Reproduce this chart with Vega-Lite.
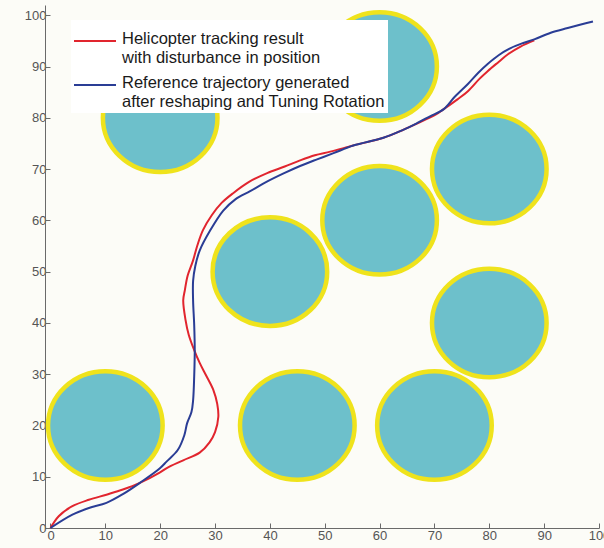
{
  "$schema": "https://vega.github.io/schema/vega-lite/v6.json",
  "width": 554,
  "height": 523,
  "autosize": {"type": "none"},
  "padding": {"left": 45, "top": 5, "right": 5, "bottom": 20},
  "background": "#fcfcf7",
  "config": {
    "view": {"stroke": null},
    "font": "Liberation Sans",
    "axis": {
      "grid": false,
      "domainColor": "#6a6a6a",
      "tickColor": "#6a6a6a",
      "tickSize": -5,
      "labelColor": "#555555",
      "labelFontSize": 13,
      "labelFont": "Liberation Sans",
      "title": null
    }
  },
  "datasets": {
    "circles": [
      {"cx": 10, "cy": 20}, {"cx": 45, "cy": 20}, {"cx": 70, "cy": 20},
      {"cx": 80, "cy": 40}, {"cx": 80, "cy": 70}, {"cx": 60, "cy": 60},
      {"cx": 40, "cy": 50}, {"cx": 20, "cy": 80}, {"cx": 60, "cy": 90}
    ],
    "paths": [
      {"series": "A", "i": 0, "x": 0, "y": 0},
      {"series": "A", "i": 1, "x": 1.5, "y": 2.3},
      {"series": "A", "i": 2, "x": 3.9, "y": 4.2},
      {"series": "A", "i": 3, "x": 7, "y": 5.5},
      {"series": "A", "i": 4, "x": 10.2, "y": 6.5},
      {"series": "A", "i": 5, "x": 13.2, "y": 7.5},
      {"series": "A", "i": 6, "x": 16.3, "y": 8.8},
      {"series": "A", "i": 7, "x": 19.9, "y": 10.8},
      {"series": "A", "i": 8, "x": 21.2, "y": 11.7},
      {"series": "A", "i": 9, "x": 24.2, "y": 13.2},
      {"series": "A", "i": 10, "x": 27.2, "y": 14.7},
      {"series": "A", "i": 11, "x": 29, "y": 16.7},
      {"series": "A", "i": 12, "x": 30, "y": 18.7},
      {"series": "A", "i": 13, "x": 30.6, "y": 21.7},
      {"series": "A", "i": 14, "x": 30.4, "y": 24.2},
      {"series": "A", "i": 15, "x": 29.7, "y": 26.9},
      {"series": "A", "i": 16, "x": 28.4, "y": 29.7},
      {"series": "A", "i": 17, "x": 27.2, "y": 32.2},
      {"series": "A", "i": 18, "x": 26.2, "y": 34.7},
      {"series": "A", "i": 19, "x": 25.2, "y": 37.7},
      {"series": "A", "i": 20, "x": 24.6, "y": 40.7},
      {"series": "A", "i": 21, "x": 24.2, "y": 44.4},
      {"series": "A", "i": 22, "x": 24.5, "y": 46.4},
      {"series": "A", "i": 23, "x": 25, "y": 49.2},
      {"series": "A", "i": 24, "x": 26, "y": 52.2},
      {"series": "A", "i": 25, "x": 26.8, "y": 55.2},
      {"series": "A", "i": 26, "x": 27.8, "y": 58.1},
      {"series": "A", "i": 27, "x": 29.4, "y": 61},
      {"series": "A", "i": 28, "x": 31.2, "y": 63.4},
      {"series": "A", "i": 29, "x": 33.3, "y": 65.3},
      {"series": "A", "i": 30, "x": 36.2, "y": 67.5},
      {"series": "A", "i": 31, "x": 39.5, "y": 69.2},
      {"series": "A", "i": 32, "x": 42.7, "y": 70.5},
      {"series": "A", "i": 33, "x": 45.5, "y": 71.7},
      {"series": "A", "i": 34, "x": 48.2, "y": 72.7},
      {"series": "A", "i": 35, "x": 51, "y": 73.4},
      {"series": "A", "i": 36, "x": 55.2, "y": 74.6},
      {"series": "A", "i": 37, "x": 60.7, "y": 76.1},
      {"series": "A", "i": 38, "x": 64.2, "y": 77.6},
      {"series": "A", "i": 39, "x": 66.9, "y": 78.9},
      {"series": "A", "i": 40, "x": 70.2, "y": 80.6},
      {"series": "A", "i": 41, "x": 71.7, "y": 81.7},
      {"series": "A", "i": 42, "x": 74.2, "y": 83.6},
      {"series": "A", "i": 43, "x": 76.1, "y": 85.2},
      {"series": "A", "i": 44, "x": 78.2, "y": 87.6},
      {"series": "A", "i": 45, "x": 79.7, "y": 89.1},
      {"series": "A", "i": 46, "x": 81.7, "y": 90.9},
      {"series": "A", "i": 47, "x": 83.4, "y": 92.4},
      {"series": "A", "i": 48, "x": 85.7, "y": 93.9},
      {"series": "A", "i": 49, "x": 88.2, "y": 95.1},
      {"series": "B", "i": 0, "x": 0, "y": 0},
      {"series": "B", "i": 1, "x": 4, "y": 2.6},
      {"series": "B", "i": 2, "x": 7, "y": 3.9},
      {"series": "B", "i": 3, "x": 10.2, "y": 4.9},
      {"series": "B", "i": 4, "x": 13.2, "y": 6.6},
      {"series": "B", "i": 5, "x": 16.3, "y": 8.8},
      {"series": "B", "i": 6, "x": 19.9, "y": 11.6},
      {"series": "B", "i": 7, "x": 21.2, "y": 13},
      {"series": "B", "i": 8, "x": 23.2, "y": 15.2},
      {"series": "B", "i": 9, "x": 24.4, "y": 18.1},
      {"series": "B", "i": 10, "x": 24.9, "y": 20.4},
      {"series": "B", "i": 11, "x": 25.7, "y": 22.6},
      {"series": "B", "i": 12, "x": 26, "y": 24.9},
      {"series": "B", "i": 13, "x": 26.2, "y": 29.6},
      {"series": "B", "i": 14, "x": 26.3, "y": 34.6},
      {"series": "B", "i": 15, "x": 26.2, "y": 39.6},
      {"series": "B", "i": 16, "x": 26, "y": 44.3},
      {"series": "B", "i": 17, "x": 26, "y": 48.2},
      {"series": "B", "i": 18, "x": 26.4, "y": 51.1},
      {"series": "B", "i": 19, "x": 27.2, "y": 54.1},
      {"series": "B", "i": 20, "x": 29.1, "y": 58},
      {"series": "B", "i": 21, "x": 31.5, "y": 61.9},
      {"series": "B", "i": 22, "x": 33.7, "y": 64.1},
      {"series": "B", "i": 23, "x": 36.4, "y": 65.7},
      {"series": "B", "i": 24, "x": 39.2, "y": 67.4},
      {"series": "B", "i": 25, "x": 42.4, "y": 69.1},
      {"series": "B", "i": 26, "x": 45.5, "y": 70.6},
      {"series": "B", "i": 27, "x": 48.6, "y": 71.9},
      {"series": "B", "i": 28, "x": 51.6, "y": 73.1},
      {"series": "B", "i": 29, "x": 55.2, "y": 74.6},
      {"series": "B", "i": 30, "x": 60.7, "y": 76.1},
      {"series": "B", "i": 31, "x": 64.2, "y": 77.6},
      {"series": "B", "i": 32, "x": 66.9, "y": 79},
      {"series": "B", "i": 33, "x": 69.2, "y": 80.3},
      {"series": "B", "i": 34, "x": 71.7, "y": 81.7},
      {"series": "B", "i": 35, "x": 73.7, "y": 84.1},
      {"series": "B", "i": 36, "x": 76.1, "y": 86.6},
      {"series": "B", "i": 37, "x": 78, "y": 88.8},
      {"series": "B", "i": 38, "x": 79.7, "y": 90.5},
      {"series": "B", "i": 39, "x": 81.7, "y": 92.2},
      {"series": "B", "i": 40, "x": 83.9, "y": 93.6},
      {"series": "B", "i": 41, "x": 86.2, "y": 94.6},
      {"series": "B", "i": 42, "x": 88.2, "y": 95.3},
      {"series": "B", "i": 43, "x": 91.2, "y": 96.6},
      {"series": "B", "i": 44, "x": 94.3, "y": 97.5},
      {"series": "B", "i": 45, "x": 96.7, "y": 98.2},
      {"series": "B", "i": 46, "x": 98.9, "y": 98.8}
    ]
  },
  "layer": [
    {
      "data": {"name": "circles"},
      "mark": {
        "type": "point",
        "shape": "M -1 0 A 1 0.947 0 1 1 1 0 A 1 0.947 0 1 1 -1 0 Z",
        "filled": true,
        "fill": "#6dc0cb",
        "fillOpacity": 1,
        "stroke": "#efe31c",
        "strokeWidth": 4.5,
        "opacity": 1,
        "size": 13133
      },
      "encoding": {
        "x": {"field": "cx", "type": "quantitative", "scale": {"domain": [-1, 100], "nice": false, "zero": false},
              "axis": {"values": [0, 10, 20, 30, 40, 50, 60, 70, 80, 90, 100], "labelPadding": 6, "labelFlush": false}},
        "y": {"field": "cy", "type": "quantitative", "scale": {"domain": [0, 102], "nice": false, "zero": false},
              "axis": {"values": [0, 10, 20, 30, 40, 50, 60, 70, 80, 90, 100], "labelPadding": 4}}
      }
    },
    {
      "data": {"name": "paths"},
      "mark": {"type": "line", "strokeWidth": 2, "interpolate": "catmull-rom"},
      "encoding": {
        "x": {"field": "x", "type": "quantitative"},
        "y": {"field": "y", "type": "quantitative"},
        "order": {"field": "i"},
        "color": {
          "field": "series",
          "type": "nominal",
          "scale": {"domain": ["A", "B"], "range": ["#e1252e", "#2a3d95"]},
          "legend": {
            "title": null,
            "orient": "none",
            "legendX": 26,
            "legendY": 15,
            "fillColor": "#ffffff",
            "padding": 3,
            "symbolType": "M -1.05 -0.15 L 1.05 -0.15",
            "symbolSize": 1600,
            "symbolStrokeWidth": 2,
            "labelFontSize": 16.5,
            "labelColor": "#1a1a1a",
            "labelLimit": 400,
            "labelOffset": 6,
            "labelBaseline": "alphabetic",
            "rowPadding": 1,
            "labelExpr": "datum.value == 'A' ? ['Helicopter tracking result', 'with disturbance in position'] : ['Reference trajectory generated', 'after reshaping and Tuning Rotation']"
          }
        }
      }
    }
  ]
}
